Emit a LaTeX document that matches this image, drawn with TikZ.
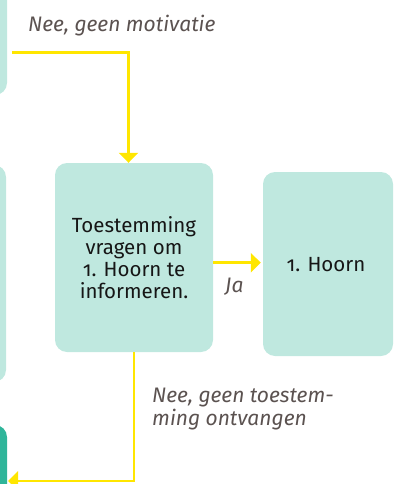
\documentclass[tikz,border=0pt]{standalone}
\usepackage{fontspec}
\setmainfont{Fira Sans}[Numbers=OldStyle]
\usetikzlibrary{arrows.meta}
\definecolor{boxlight}{HTML}{BFE8DF}
\definecolor{boxdark}{HTML}{2FB59A}
\definecolor{flowyellow}{HTML}{FFE600}
\definecolor{labelgray}{HTML}{5B5250}
\definecolor{textblack}{HTML}{161616}
\tikzset{
  card/.style={draw=none, fill=boxlight, rounded corners=12pt, inner sep=0pt},
  darkcard/.style={draw=none, fill=boxdark, rounded corners=12pt, inner sep=0pt},
  flow/.style={draw=flowyellow, line width=2.8pt, -{Triangle[length=10pt,width=19pt]}},
  lbl/.style={text=labelgray, font=\fontsize{21}{23}\selectfont\itshape, align=left, inner sep=0pt},
  boxtext/.style={text=textblack, font=\fontsize{20.5}{22}\selectfont, align=center}
}
\begin{document}
\begin{tikzpicture}[x=1pt,y=-1pt]
\useasboundingbox (0,0) rectangle (398,484);
\clip (0,0) rectangle (398,484);
% partial boxes on the left
\node[card, minimum width=57pt, minimum height=145pt] (topleft) at (-21.5,22.5) {};
\node[card, minimum width=56pt, minimum height=217pt] (leftmid) at (-22,273.5) {};
\node[darkcard, minimum width=57pt, minimum height=120pt] (dark) at (-21.5,485) {};
% main boxes
\node[card, minimum width=158pt, minimum height=189pt] (mid) at (134,257.5) {};
\node[boxtext] (midtext) at (134,258) {Toestemming\\vragen om\\1. Hoorn te\\informeren.};
\node[card, minimum width=130pt, minimum height=184pt] (right) at (328,264) {};
\node[boxtext, anchor=base] (righttext) at (326,271) {1. Hoorn};
% connectors
\coordinate (startA) at (12,52.7);
\coordinate (endB) at (8,481);
\draw[flow] (startA) -| ([xshift=-5.5pt]mid.north);
\draw[flow, shorten >=2pt] (mid.east |- 0,262.7) -- (right.west |- 0,262.7);
\draw[flow] (mid.south) |- (endB);
% labels
\node[lbl, anchor=base west] (l1) at (28,31.5) {Nee, geen motivatie};
\node[lbl, anchor=base west] (l2) at (225,292) {Ja};
\node[lbl, anchor=base west] (l3) at (152,425) {Nee, geen toestem-\\ming ontvangen};
\end{tikzpicture}
\end{document}
